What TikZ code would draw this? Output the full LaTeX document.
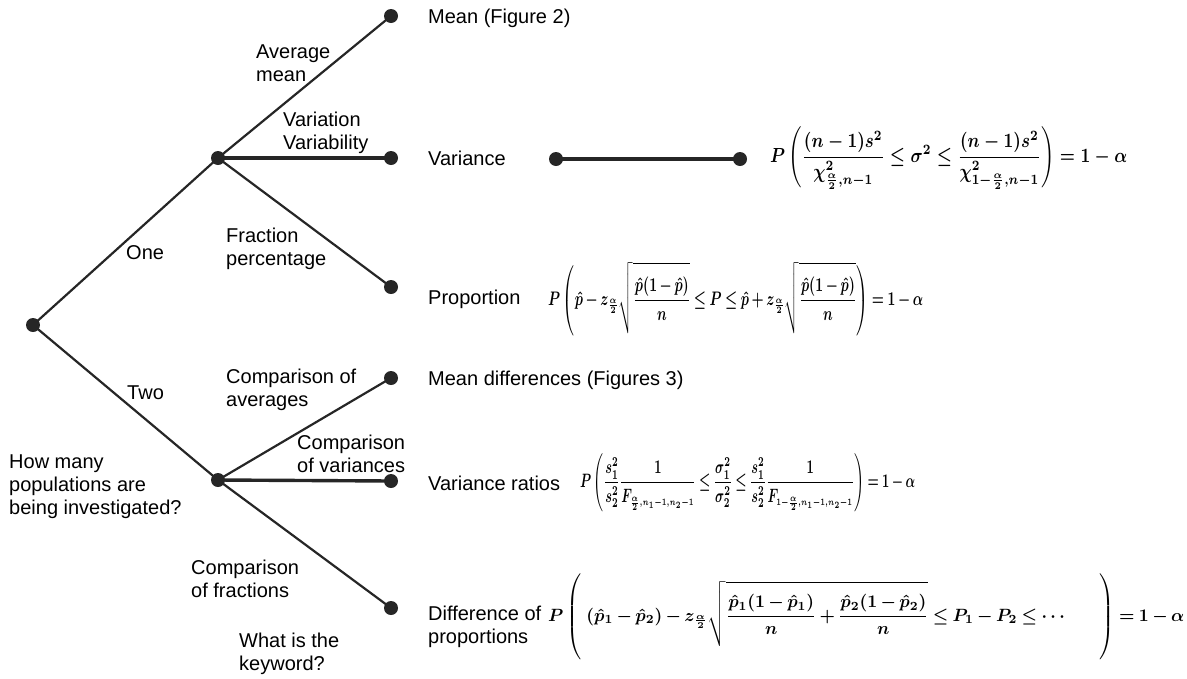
\documentclass[tikz,border=0pt]{standalone}
\usepackage{fontspec}
\setmainfont{Liberation Sans}
\usepackage{amsmath}
\usepackage{graphicx}
\newcommand{\nst}{\rule{0pt}{1.15em}}
\newcommand{\dst}{\rule[-0.55em]{0pt}{0.55em}}
\newcommand{\hlf}{\frac{\alpha}{2}}
\begin{document}
\begin{tikzpicture}[x=1pt,y=-1pt,
  dot/.style={circle,fill=black!85,inner sep=0pt,minimum size=14pt},
  branch/.style={line width=2.2pt,black!85},
  hbranch/.style={line width=3.4pt,black!85},
  lbl/.style={anchor=north west,inner sep=0pt,align=left,font=\fontsize{20}{23}\selectfont},
  formula/.style={anchor=west,inner sep=0pt,font=\boldmath}]
\useasboundingbox (0,0) rectangle (1187,678);
% dots
\node[dot] (root) at (33,325) {};
\node[dot] (one) at (218,158) {};
\node[dot] (two) at (218,480) {};
\node[dot] (mean) at (391,16) {};
\node[dot] (var) at (391,158) {};
\node[dot] (prop) at (391,287) {};
\node[dot] (mdiff) at (391,378) {};
\node[dot] (vratio) at (391,481) {};
\node[dot] (dprop) at (391,608) {};
\node[dot] (va) at (556,159) {};
\node[dot] (vb) at (740,159) {};
% connectors
\draw[branch] (root.center) -- (one.center);
\draw[branch] (root.center) -- (two.center);
\draw[branch] (one.center) -- (mean.center);
\draw[hbranch] (one.center) -- (var.center);
\draw[branch] (one.center) -- (prop.center);
\draw[branch] (two.center) -- (mdiff.center);
\draw[hbranch] (two.center) -- (vratio.center);
\draw[branch] (two.center) -- (dprop.center);
\draw[hbranch] (va.center) -- (vb.center);
% branch labels
\node[lbl] (lavg) at (256,45) {Average\\mean};
\node[lbl] (lvar) at (283,112) {Variation\\Variability};
\node[lbl] (lfrac) at (226,228) {Fraction\\percentage};
\node[lbl] (lone) at (126,245) {One};
\node[lbl] (ltwo) at (127,386) {Two};
\node[lbl] (lcavg) at (226,369) {Comparison of\\averages};
\node[lbl] (lcvar) at (297,435) {Comparison\\of variances};
\node[lbl] (lhow) at (9,455) {How many\\populations are\\being investigated?};
\node[lbl] (lcfrac) at (191,560) {Comparison\\of fractions};
\node[lbl] (lkey) at (239,633) {What is the\\keyword?};
% leaf labels
\node[lbl] (tmean) at (428,9) {Mean (Figure 2)};
\node[lbl] (tvar) at (428,151) {Variance};
\node[lbl] (tprop) at (428,290) {Proportion};
\node[lbl] (tmdiff) at (428,371) {Mean differences (Figures 3)};
\node[lbl] (tvratio) at (428,476) {Variance ratios};
\node[lbl] (tdprop) at (428,606) {Difference of\\proportions};
% formulas
\node[formula] (f1) at (770,158) {\resizebox*{357pt}{62pt}{$\displaystyle P\left(\frac{(n-1)s^2}{\chi^2_{\frac{\alpha}{2},n-1}}\le\sigma^2\le\frac{(n-1)s^2}{\chi^2_{1-\frac{\alpha}{2},n-1}}\right)=1-\alpha$}};
\node[formula] (f2) at (548,299) {\resizebox*{375pt}{74pt}{$\thickmuskip=4mu\medmuskip=3mu\displaystyle P\left(\hat p-z_{\hlf}\sqrt{\frac{\nst\hat p(1-\hat p)}{n\dst}}\le P\le\hat p+z_{\hlf}\sqrt{\frac{\nst\hat p(1-\hat p)}{n\dst}}\right)=1-\alpha$}};
\node[formula] (f3) at (580,482) {\resizebox*{335pt}{62pt}{$\thickmuskip=4mu\medmuskip=3mu\displaystyle P\left(\frac{\nst s_1^2}{s_2^2\dst}\frac{1}{F_{\scriptscriptstyle\hlf,n_1-1,n_2-1}}\le\frac{\nst\sigma_1^2}{\sigma_2^2\dst}\le\frac{\nst s_1^2}{s_2^2\dst}\frac{1}{F_{\scriptscriptstyle 1-\hlf,n_1-1,n_2-1}}\right)=1-\alpha$}};
\node[formula] (f4) at (548,618) {\resizebox*{636pt}{88pt}{$\thickmuskip=4mu\medmuskip=3mu\displaystyle P\left(\vrule height 2.3em depth 2.3em width 0pt\;(\hat p_1-\hat p_2)-z_{\hlf}\sqrt{\frac{\nst\hat p_1(1-\hat p_1)}{n\dst}+\frac{\nst\hat p_2(1-\hat p_2)}{n\dst}}\le P_1-P_2\le\cdots\qquad\right)=1-\alpha$}};
\end{tikzpicture}
\end{document}
